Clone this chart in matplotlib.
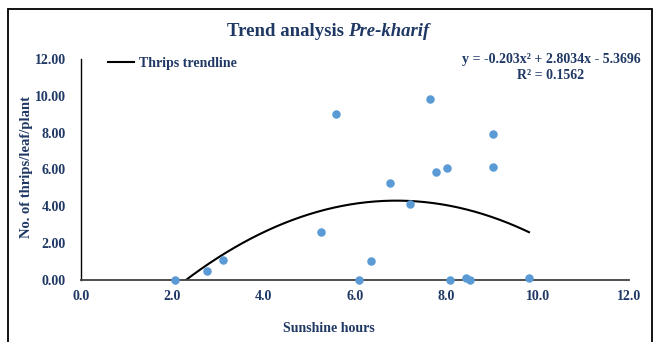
import numpy as np
import matplotlib
matplotlib.use("Agg")
import matplotlib.pyplot as plt
from matplotlib.lines import Line2D
from matplotlib.patches import Rectangle

# Data
sunshine = [2.06, 2.76, 3.11, 5.26, 5.58, 6.09, 6.35, 6.77, 7.20, 7.64,
            7.77, 8.01, 8.08, 8.43, 8.52, 9.02, 9.02, 9.81]
thrips = [0.0, 0.50, 1.10, 2.60, 9.02, 0.0, 1.05, 5.27, 4.15, 9.84,
          5.87, 6.10, 0.0, 0.10, 0.0, 7.95, 6.15, 0.10]
coef = [-0.203, 2.8034, -5.3696]
r2 = 0.1562
x_ticks = [0, 2, 4, 6, 8, 10, 12]
y_ticks = [0, 2, 4, 6, 8, 10, 12]

navy = "#1F3864"
plt.rcParams['font.family'] = ['Liberation Serif', 'DejaVu Serif']
plt.rcParams['font.weight'] = 'bold'

W, H = 654, 342
fig = plt.figure(figsize=(W / 100, H / 100), dpi=100)
ax = fig.add_axes([81 / W, (H - 280) / H, (629 - 81) / W, (280 - 59) / H])

ax.scatter(sunshine, thrips, s=26, color="#5B9BD5", zorder=3, clip_on=False)
xt = np.linspace(min(sunshine), max(sunshine), 300)
yt = np.polyval(coef, xt)
line, = ax.plot(xt, yt, color="black", lw=1.5, zorder=2)

ax.set_xlim(0, 12)
ax.set_ylim(0, 12)
ax.set_xticks(x_ticks)
ax.set_yticks(y_ticks)
ax.set_xticklabels([f"{v:.1f}" for v in x_ticks])
ax.set_yticklabels([f"{v:.2f}" for v in y_ticks])
ax.tick_params(axis='both', length=0, labelsize=10, labelcolor=navy)
ax.tick_params(axis='x', pad=7)
ax.tick_params(axis='y', pad=11)
for lab in ax.get_xticklabels() + ax.get_yticklabels():
    lab.set_fontweight('bold')
ax.spines['top'].set_visible(False)
ax.spines['right'].set_visible(False)
ax.spines['left'].set_color('black')
ax.spines['left'].set_linewidth(1.0)
ax.spines['bottom'].set_color('#404040')
ax.spines['bottom'].set_linewidth(1.3)

ax.set_xlabel("Sunshine hours", fontsize=10, color=navy, fontweight='bold', labelpad=0)
ax.xaxis.set_label_coords(0.452, -0.19)
ax.set_ylabel("No. of thrips/leaf/plant", fontsize=10.5, color=navy, fontweight='bold')
ax.yaxis.set_label_coords(-0.088, 0.51)

# Legend
leg = ax.legend([Line2D([0], [0], color='black', lw=1.5)], ["Thrips trendline"],
                loc='upper left', bbox_to_anchor=(108 / W, (H - 57) / H),
                bbox_transform=fig.transFigure, frameon=False, borderpad=0,
                borderaxespad=0, handlelength=1.9, handletextpad=0.3,
                prop={'family': 'Liberation Serif', 'weight': 'bold', 'size': 10})
for t in leg.get_texts():
    t.set_color(navy)

# Equation
fig.text(551 / W, (H - 67.5) / H, "y = -0.203x² + 2.8034x - 5.3696\nR² = 0.1562",
         ha='center', va='center', fontsize=10, color=navy, fontweight='bold',
         linespacing=1.35)

# Title: bold + bold italic
renderer = fig.canvas.get_renderer()
t1 = fig.text(0, (H - 32) / H, "Trend analysis", fontsize=13.5, color=navy,
              fontweight='bold', va='center', ha='left')
t2 = fig.text(0, (H - 32) / H, "Pre-kharif", fontsize=13.5, color=navy,
              fontweight='bold', style='italic', va='center', ha='left')
w1 = t1.get_window_extent(renderer).width
w2 = t2.get_window_extent(renderer).width
gap = 4.5
start = 328 - (w1 + gap + w2) / 2
t1.set_x(start / W)
t2.set_x((start + w1 + gap) / W)

# Outer frame
fig.patches.append(Rectangle((7.5 / W, -0.05), (652 - 7.5) / W, (H - 9) / H + 0.05,
                             transform=fig.transFigure, fill=False,
                             edgecolor='black', lw=1.3))

fig.savefig("out.png", dpi=100)
